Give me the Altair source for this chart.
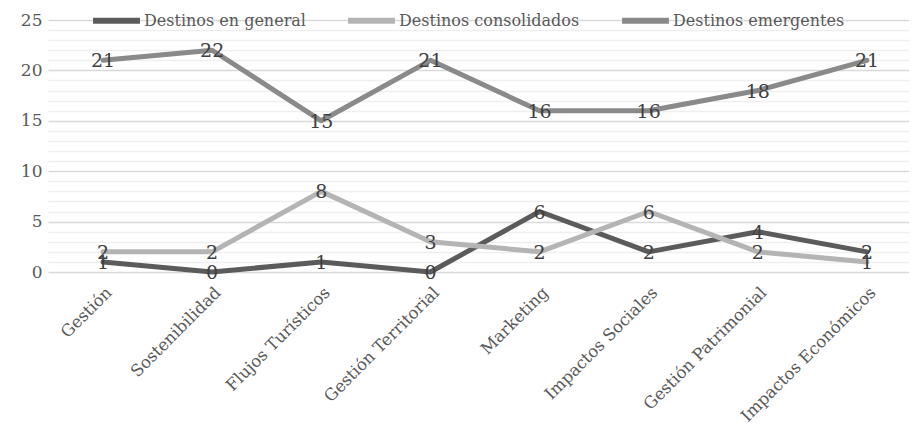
import json
import altair as alt
import pandas as pd

categories = ["Gestión", "Sostenibilidad", "Flujos Turísticos", "Gestión Territorial",
              "Marketing", "Impactos Sociales", "Gestión Patrimonial", "Impactos Económicos"]
series_names = ["Destinos en general", "Destinos consolidados", "Destinos emergentes"]
general = [1, 0, 1, 0, 6, 2, 4, 2]
consolidados = [2, 2, 8, 3, 2, 6, 2, 1]
emergentes = [21, 22, 15, 21, 16, 16, 18, 21]
colors = ["#5b5b5b", "#b4b4b4", "#8a8a8a"]

rows = []
for name, vals in zip(series_names, [general, consolidados, emergentes]):
    for i, (c, v) in enumerate(zip(categories, vals)):
        rows.append({"idx": i, "categoria": c, "serie": name, "valor": v})
df = pd.DataFrame(rows)

FONT = "DejaVu Serif"
label_expr = json.dumps(categories, ensure_ascii=False) + "[datum.value]"

x = alt.X("idx:Q",
          scale=alt.Scale(domain=[-0.504, 7.385], nice=False, zero=False),
          axis=alt.Axis(values=list(range(len(categories))), labelExpr=label_expr,
                        labelAngle=-45, labelAlign="right", labelBaseline="top",
                        labelFont=FONT, labelFontSize=16.5, labelColor="#595959",
                        labelPadding=12, ticks=False, grid=False, domain=False,
                        title=None, labelOverlap=False, labelBound=False, labelFlush=False,
                        labelLimit=0))
y = alt.Y("valor:Q",
          scale=alt.Scale(domain=[0, 25], nice=False),
          axis=alt.Axis(values=list(range(0, 26)),
                        labelExpr="datum.value % 5 === 0 ? datum.label : ''",
                        gridColor={"condition": {"test": "datum.value % 5 === 0", "value": "#d9d9d9"},
                                   "value": "#efefef"},
                        gridWidth=1.3, labelOverlap=False,
                        labelFont=FONT, labelFontSize=17, labelColor="#595959",
                        labelPadding=6, ticks=False, domain=False, title=None))
color = alt.Color("serie:N",
                  scale=alt.Scale(domain=series_names, range=colors),
                  legend=alt.Legend(title=None, orient="none", direction="horizontal",
                                    legendX=42, legendY=-26,
                                    symbolType="stroke", symbolSize=2200,
                                    symbolStrokeWidth=6,
                                    labelFont=FONT, labelFontSize=16, labelColor="#595959",
                                    labelOffset=1, columnPadding=30, labelLimit=0))

base = alt.Chart(df).encode(x=x, y=y)
lines = base.mark_line(strokeWidth=5, strokeCap="round", strokeJoin="round").encode(color=color)
labels = base.mark_text(font=FONT, fontSize=19, color="#404040",
                        baseline="middle", dy=1).encode(text="valor:Q")

chart = (lines + labels).properties(
    width=861, height=252,
    autosize=alt.AutoSizeParams(type="none"),
    padding={"left": 40, "top": 12, "right": 0, "bottom": 155},
).configure(background="white").configure_view(stroke=None)

chart.save("out.html", embed_options={"renderer": "svg", "actions": False})
